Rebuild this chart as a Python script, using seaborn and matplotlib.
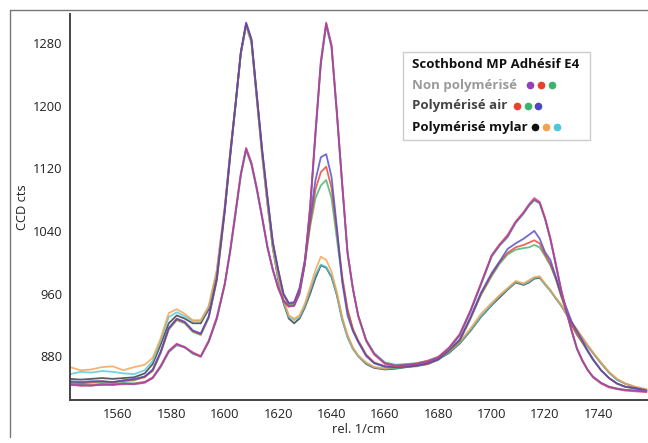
import numpy as np
import pandas as pd
import matplotlib
matplotlib.use("Agg")
import matplotlib.pyplot as plt
import seaborn as sns
from matplotlib.lines import Line2D
from matplotlib.patches import Rectangle

# ---------------- data ----------------
wavenumber = [1542, 1546, 1550, 1554, 1558, 1562, 1566, 1570, 1573, 1576,
              1579, 1582, 1585, 1588, 1591, 1594, 1597, 1600, 1602, 1604,
              1606, 1608, 1610, 1612, 1614, 1616, 1618, 1620, 1622, 1624,
              1626, 1628, 1630, 1632, 1634, 1636, 1638, 1640, 1642, 1644,
              1646, 1648, 1650, 1653, 1656, 1660, 1664, 1668, 1672, 1676,
              1680, 1684, 1688, 1692, 1696, 1700, 1703, 1706, 1709, 1712,
              1714, 1716, 1718, 1720, 1722, 1724, 1726, 1728, 1730, 1732,
              1734, 1736, 1738, 1741, 1744, 1747, 1750, 1754, 1758]

# Non polymérisé
np_purple = [843, 843, 842, 844, 843, 845, 844, 846, 852, 867,
             886, 895, 892, 884, 879, 899, 928, 972, 1014, 1062,
             1112, 1145, 1126, 1094, 1058, 1019, 991, 968, 951, 944,
             944, 960, 998, 1070, 1165, 1255, 1305, 1276, 1191, 1100,
             1012, 967, 932, 900, 883, 871, 868, 869, 870, 873,
             878, 890, 907, 937, 972, 1008, 1022, 1033, 1051, 1063,
             1073, 1080, 1076, 1056, 1030, 998, 965, 937, 912, 889,
             874, 862, 854, 846, 841, 838, 837, 836, 835]
np_red = [844, 842, 843, 843, 844, 844, 845, 847, 853, 868,
          887, 896, 891, 885, 880, 900, 930, 973, 1015, 1064,
          1113, 1146, 1127, 1095, 1057, 1020, 990, 967, 950, 943,
          945, 961, 1000, 1072, 1167, 1257, 1306, 1278, 1193, 1101,
          1013, 966, 931, 899, 882, 870, 867, 868, 871, 874,
          879, 891, 908, 938, 973, 1009, 1023, 1035, 1052, 1064,
          1074, 1082, 1077, 1057, 1031, 999, 966, 938, 913, 890,
          875, 863, 853, 845, 840, 838, 836, 835, 834]
np_green = [845, 844, 843, 845, 844, 846, 845, 847, 852, 866,
            885, 894, 891, 883, 880, 898, 927, 971, 1012, 1060,
            1110, 1143, 1124, 1092, 1056, 1018, 990, 967, 951, 945,
            945, 959, 997, 1068, 1163, 1252, 1302, 1274, 1189, 1098,
            1011, 966, 932, 901, 884, 872, 869, 870, 871, 874,
            879, 889, 906, 936, 971, 1007, 1021, 1032, 1050, 1062,
            1072, 1079, 1075, 1055, 1029, 997, 964, 937, 912, 889,
            874, 862, 853, 846, 841, 839, 837, 836, 835]

# Polymérisé air
air_red = [846, 845, 847, 848, 846, 849, 850, 853, 862, 885,
           915, 927, 923, 912, 908, 930, 978, 1066, 1135, 1200,
           1267, 1305, 1284, 1213, 1143, 1082, 1025, 990, 959, 947,
           948, 965, 1000, 1050, 1093, 1115, 1122, 1095, 1040, 982,
           940, 915, 900, 882, 872, 867, 866, 866, 868, 870,
           876, 887, 900, 928, 959, 984, 1000, 1012, 1019, 1022,
           1025, 1028, 1024, 1010, 998, 980, 958, 938, 920, 908,
           898, 887, 876, 862, 852, 845, 841, 839, 836]
air_green = [847, 846, 846, 847, 847, 848, 849, 854, 861, 884,
             914, 926, 922, 911, 907, 929, 976, 1064, 1133, 1199,
             1266, 1304, 1283, 1212, 1142, 1081, 1024, 989, 958, 946,
             947, 964, 998, 1046, 1082, 1098, 1105, 1082, 1030, 978,
             938, 914, 899, 881, 871, 866, 865, 866, 867, 870,
             875, 886, 899, 927, 958, 982, 998, 1010, 1016, 1018,
             1019, 1022, 1019, 1008, 996, 979, 957, 937, 920, 907,
             897, 886, 875, 862, 852, 845, 841, 838, 836]
air_blue = [848, 847, 848, 848, 847, 849, 851, 854, 863, 886,
            916, 928, 924, 913, 909, 931, 979, 1067, 1136, 1201,
            1268, 1306, 1285, 1214, 1144, 1083, 1026, 991, 960, 948,
            949, 967, 1003, 1058, 1105, 1134, 1138, 1109, 1045, 975,
            932, 912, 898, 880, 871, 867, 866, 867, 868, 871,
            876, 888, 901, 929, 961, 986, 1001, 1017, 1024, 1030,
            1035, 1040, 1030, 1013, 1003, 982, 960, 942, 924, 912,
            900, 887, 876, 862, 852, 845, 841, 839, 836]

# Polymérisé mylar
my_black = [851, 850, 851, 852, 851, 852, 853, 858, 870, 895,
            922, 932, 928, 922, 922, 940, 985, 1068, 1138, 1200,
            1267, 1303, 1282, 1210, 1138, 1075, 1018, 978, 948, 928,
            922, 928, 942, 960, 980, 996, 993, 981, 958, 927,
            905, 890, 880, 870, 865, 863, 864, 866, 868, 870,
            876, 884, 896, 912, 930, 945, 955, 965, 974, 971,
            974, 979, 980, 972, 964, 954, 945, 934, 922, 913,
            903, 893, 884, 871, 859, 850, 845, 840, 837]
my_orange = [866, 862, 863, 866, 867, 862, 866, 869, 878, 903,
             935, 940, 934, 926, 926, 944, 990, 1072, 1140, 1202,
             1268, 1303, 1280, 1208, 1136, 1074, 1020, 982, 953, 932,
             928, 932, 947, 968, 990, 1007, 1003, 988, 962, 930,
             907, 891, 881, 872, 866, 864, 866, 868, 870, 872,
             877, 886, 898, 915, 934, 948, 958, 967, 976, 973,
             977, 981, 982, 973, 964, 955, 946, 935, 923, 914,
             904, 894, 885, 872, 860, 851, 845, 841, 838]
my_cyan = [857, 860, 859, 861, 860, 858, 857, 862, 874, 900,
           930, 936, 931, 925, 925, 943, 988, 1070, 1138, 1200,
           1266, 1302, 1280, 1209, 1137, 1075, 1019, 980, 950, 930,
           926, 930, 944, 964, 984, 997, 994, 982, 959, 926,
           904, 889, 880, 871, 866, 864, 865, 867, 869, 871,
           876, 885, 897, 913, 931, 946, 957, 966, 975, 972,
           975, 980, 981, 971, 963, 954, 945, 934, 922, 913,
           903, 893, 884, 871, 859, 850, 845, 840, 837]

series = {
    "mylar_black": my_black, "mylar_cyan": my_cyan, "mylar_orange": my_orange,
    "air_green": air_green, "air_red": air_red, "air_blue": air_blue,
    "np_green": np_green, "np_red": np_red, "np_purple": np_purple,
}
palette = {
    "mylar_black": "#333333", "mylar_cyan": "#4cc9d8", "mylar_orange": "#f5a04a",
    "air_green": "#3bb36a", "air_red": "#e8412e", "air_blue": "#4c46c4",
    "np_green": "#3bb36a", "np_purple": "#a040b8", "np_red": "#e5434e",
}
for k, v in series.items():
    assert len(v) == len(wavenumber), (k, len(v))

df = pd.concat([pd.DataFrame({"wn": wavenumber, "cts": v, "s": k})
                for k, v in series.items()], ignore_index=True)

# ---------------- figure ----------------
sns.set_style("white")
plt.rcParams["font.family"] = ["Open Sans", "DejaVu Sans"]

W, H = 648, 443
fig = plt.figure(figsize=(W / 100, H / 100), dpi=100)
ax = fig.add_axes([70 / W, (H - 400) / H, (W - 70) / W, (400 - 14) / H])

sns.lineplot(data=df, x="wn", y="cts", hue="s", hue_order=list(series.keys()),
             palette=palette, legend=False, ax=ax, linewidth=1.3, alpha=0.8,
             estimator=None, sort=False)

ax.set_xlim(1542, 1758.6)
ax.set_ylim(824, 1317)
ax.set_xticks(list(range(1560, 1741, 20)))
ax.set_yticks(list(range(880, 1281, 80)))
ax.tick_params(axis="both", direction="inout", length=7, width=1.2,
               color="#333333", labelsize=9.3, labelcolor="#222222", pad=2)
for side in ["top", "right"]:
    ax.spines[side].set_visible(False)
for side in ["left", "bottom"]:
    ax.spines[side].set_color("#444444")
    ax.spines[side].set_linewidth(1.4)
ax.set_xlabel("rel. 1/cm", fontsize=9.3, color="#222222", labelpad=2)
ax.set_ylabel("CCD cts", fontsize=9.3, color="#222222", labelpad=3)
ax.grid(False)

# outer frame (top and left edges visible)
fig.add_artist(Line2D([10 / W, 1], [1 - 10 / H, 1 - 10 / H], transform=fig.transFigure,
                      color="#777777", linewidth=1.0))
fig.add_artist(Line2D([10 / W, 10 / W], [1 - 10 / H, 1 - 437 / H], transform=fig.transFigure,
                      color="#777777", linewidth=1.0))

# legend box
def fx(px):
    return px / W

def fy(py):
    return 1 - py / H

fig.add_artist(Rectangle((fx(403), fy(140)), (590 - 403) / W, (140 - 52) / H,
                         transform=fig.transFigure, facecolor="white",
                         edgecolor="#cccccc", linewidth=1.0, zorder=5))
fig.text(fx(412), fy(65), "Scothbond MP Adhésif E4", fontsize=9.5, fontweight="bold",
         color="#111111", va="center", ha="left", zorder=6)
rows = [
    ("Non polymérisé", "#9a9a9a", 85, [530, 541, 552], ["#9440b8", "#e8412e", "#3bb36a"]),
    ("Polymérisé air", "#444444", 106, [517, 527.5, 538], ["#e8412e", "#3bb36a", "#4c46c4"]),
    ("Polymérisé mylar", "#111111", 127, [535, 545.5, 556.5], ["#111111", "#f5a04a", "#4cc9d8"]),
]
for label, col, y, xs, cols in rows:
    fig.text(fx(412), fy(y), label, fontsize=9.5, fontweight="bold", color=col,
             va="center", ha="left", zorder=6)
    for xx, cc in zip(xs, cols):
        fig.add_artist(Line2D([fx(xx)], [fy(y)], transform=fig.transFigure, marker="o",
                              markersize=4.5, color=cc, linestyle="none", zorder=6))

fig.savefig("out.png", dpi=100)
